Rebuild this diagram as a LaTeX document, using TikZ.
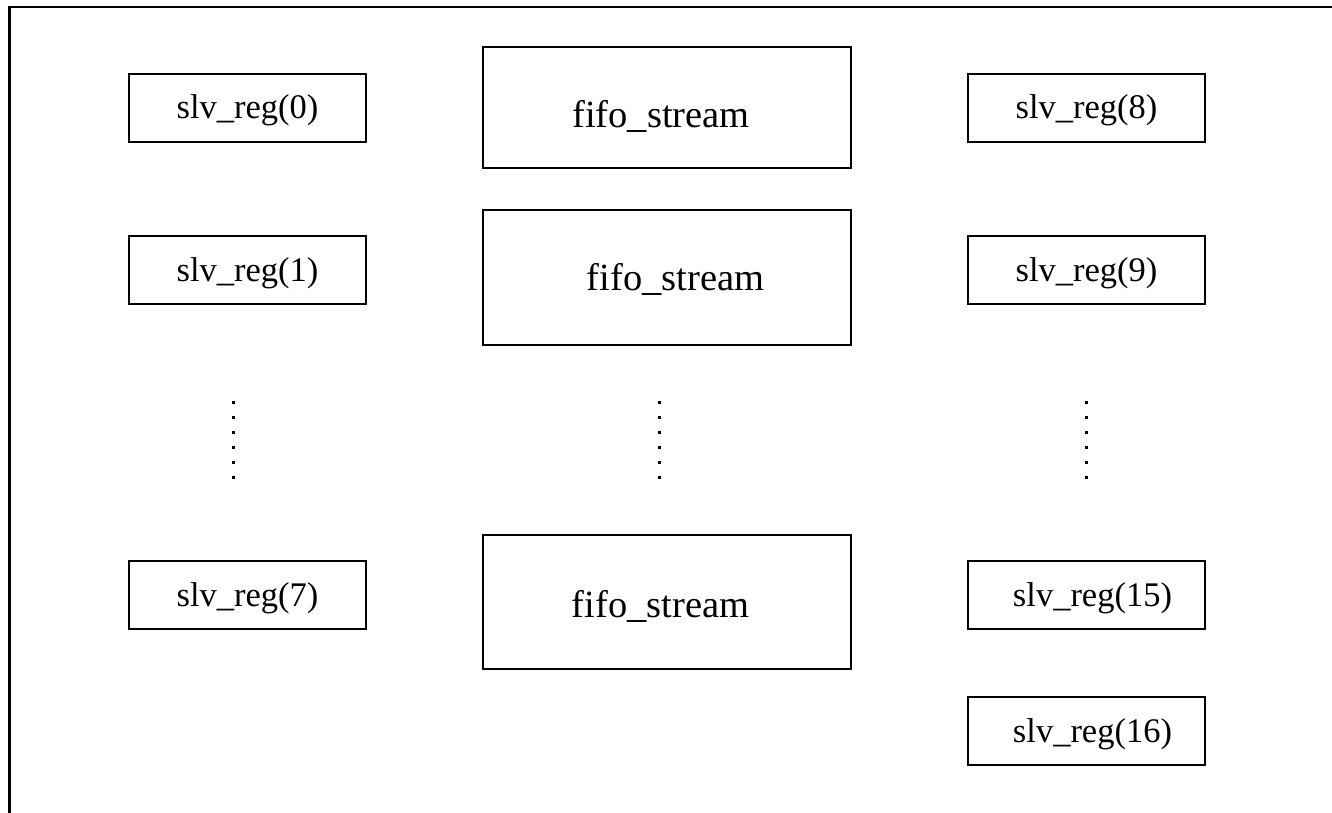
\documentclass[tikz,border=0pt]{standalone}
\usepackage{fontspec}
\setmainfont{Liberation Serif}
% text set with its baseline #2 below the node centre, moved #1 sideways
\newcommand\placedtext[3]{\raisebox{-#2}[0pt][0pt]{\makebox[0pt][c]{\kern#1\relax#3\kern-#1\relax}}}
\begin{document}
\begin{tikzpicture}[x=1pt,y=-1pt,
  regbox/.style={draw=black, line width=2.6pt, fill=white,
    minimum width=237pt, minimum height=68pt, inner sep=0pt,
    font=\fontsize{34.5}{37}\selectfont},
  fifobox/.style={draw=black, line width=2.6pt, fill=white,
    minimum width=368pt, inner sep=0pt,
    font=\fontsize{38.5}{41}\selectfont},
  framel/.style={draw=black, line width=2.6pt},
  vdot/.style={fill=black}
]
\useasboundingbox (0,0) rectangle (1332,813);
\fill[white] (0,0) rectangle (1332,813);

% open frame: left and top edges only
\coordinate (fbl) at (9.5,813);
\coordinate (ftl) at (9.5,7);
\coordinate (ftr) at (1332,7);
\draw[framel] (fbl) -- (ftl) -- (ftr);

% left column of registers
\node[regbox] (reg0) at (247.5,108) {\placedtext{0pt}{11pt}{slv\_reg(0)}};
\node[regbox] (reg1) at (247.5,270) {\placedtext{0pt}{11pt}{slv\_reg(1)}};
\node[regbox] (reg7) at (247.5,595) {\placedtext{0pt}{11pt}{slv\_reg(7)}};

% fifo streams
\node[fifobox, minimum height=121pt] (fifo1) at (667,107.5) {\placedtext{-6pt}{20pt}{fifo\_stream}};
\node[fifobox, minimum height=135pt] (fifo2) at (667,277.5) {\placedtext{8.5pt}{12.5pt}{fifo\_stream}};
\node[fifobox, minimum height=134pt] (fifo3) at (667,602) {\placedtext{-6.5pt}{15pt}{fifo\_stream}};

% right column of registers
\node[regbox] (reg8)  at (1086.5,108) {\placedtext{0pt}{11pt}{slv\_reg(8)}};
\node[regbox] (reg9)  at (1086.5,270) {\placedtext{0pt}{11pt}{slv\_reg(9)}};
\node[regbox] (reg15) at (1086.5,595) {\placedtext{6pt}{11pt}{slv\_reg(15)}};
\node[regbox] (reg16) at (1086.5,731) {\placedtext{6pt}{11pt}{slv\_reg(16)}};

% vertical ellipses between the rows
\foreach \cx in {233,659,1086}{
  \foreach \cy in {402,417,432,447,462,477}{
    \fill[vdot] (\cx-1.5,\cy-1.5) rectangle (\cx+1.5,\cy+1.5);
  }
}
\end{tikzpicture}
\end{document}
